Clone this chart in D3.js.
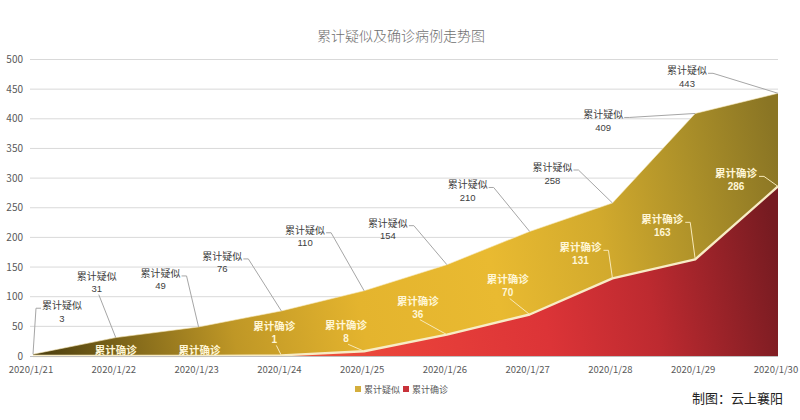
<!DOCTYPE html>
<html><head><meta charset="utf-8">
<script src="https://cdn.jsdelivr.net/npm/d3@7"></script>
<style>
html,body{margin:0;padding:0;background:#fff;}
svg{display:block;font-family:"Noto Sans CJK SC","Noto Sans",sans-serif;}
.num{font-family:"Liberation Sans",Arial,sans-serif;}
</style></head>
<body>
<svg id="chart" width="800" height="420"></svg>
<script>
const categories = ["2020/1/21","2020/1/22","2020/1/23","2020/1/24","2020/1/25","2020/1/26","2020/1/27","2020/1/28","2020/1/29","2020/1/30"];
const suspected = [3,31,49,76,110,154,210,258,409,443];
const confirmed = [0,0,0,1,8,36,70,131,163,286];
const yTicks = [0,50,100,150,200,250,300,350,400,450,500];
const seriesNames = ["累计疑似","累计确诊"];
const titleText = "累计疑似及确诊病例走势图";
const creditText = "制图：云上襄阳";

// label layout (offsets from point, in px) – layout only
const suspLabelPos = [[29,-49],[-19,-62],[-38,-54],[-59,-55],[-59,-61],[-59,-42],[-62,-47],[-60,-36],[-92,1],[-91,-23]];
const suspLeaderFrom = ["left","bottom","right","right","right","right","right","right","right","right"];
const confLabelPos = [null,[0,-6],[1,-6],[-7,-29],[-18,-26],[-29,-34],[-22,-35],[-32,-31],[-33,-40],[-42,-13]];
const confLeaderFrom = [null,null,null,"bottom","bottom","bottom","bottom","right","right","right"];

const svg = d3.select("#chart");
const x = d3.scalePoint().domain(categories).range([33,778]);
const y = d3.scaleLinear().domain([0,500]).range([356,59.5]);

const defs = svg.append("defs");
const gY = defs.append("linearGradient").attr("id","gY").attr("gradientUnits","userSpaceOnUse")
  .attr("x1",33).attr("y1",300).attr("x2",778).attr("y2",150);
[[0,"#4f410f"],[0.1,"#7c6419"],[0.25,"#bf9726"],[0.42,"#e4b42e"],[0.6,"#e9ba31"],[0.75,"#d2aa2d"],[0.88,"#ac9029"],[1,"#8a7524"]]
  .forEach(s=>gY.append("stop").attr("offset",s[0]).attr("stop-color",s[1]));
const gR = defs.append("linearGradient").attr("id","gR").attr("gradientUnits","userSpaceOnUse")
  .attr("x1",250).attr("y1",355).attr("x2",778).attr("y2",250);
[[0,"#ee5a3c"],[0.3,"#e8403a"],[0.55,"#dc3437"],[0.75,"#bd2a30"],[1,"#761b21"]]
  .forEach(s=>gR.append("stop").attr("offset",s[0]).attr("stop-color",s[1]));

// gridlines
svg.append("g").selectAll("line").data(yTicks.filter(d=>d>0)).join("line")
  .attr("x1",30).attr("x2",778).attr("y1",d=>y(d)).attr("y2",d=>y(d))
  .attr("stroke","#d9d9d9").attr("stroke-width",1);

// y axis labels
svg.append("g").selectAll("text").data(yTicks).join("text")
  .attr("x",23).attr("y",d=>y(d)+3.5).attr("text-anchor","end")
  .attr("font-size",10).attr("fill","#595959").text(d=>d);

// areas
const areaS = d3.area().x((d,i)=>x(categories[i])).y0(y(0)).y1(d=>y(d));
svg.append("path").datum(suspected).attr("d",areaS).attr("fill","url(#gY)");
const lineF = d3.line().x((d,i)=>x(categories[i])).y(d=>y(d));
svg.append("path").datum(suspected).attr("d",lineF).attr("fill","none")
  .attr("stroke","#f6e7b8").attr("stroke-opacity",0.6).attr("stroke-width",1);
svg.append("path").datum(confirmed).attr("d",areaS).attr("fill","url(#gR)");
svg.append("path").datum(confirmed).attr("d",lineF).attr("fill","none")
  .attr("stroke","#f8ecc6").attr("stroke-width",2.4).attr("stroke-linejoin","round");

// x axis line
svg.append("line").attr("x1",30).attr("x2",778).attr("y1",y(0)+0.5).attr("y2",y(0)+0.5)
  .attr("stroke","#bfbfbf");

// x labels
svg.append("g").selectAll("text").data(categories).join("text")
  .attr("x",d=>x(d)-2).attr("y",373).attr("text-anchor","middle")
  .attr("font-size",9.5).attr("fill","#595959").text(d=>d);

function leader(g, px, py, lx, ly, w, from, color){
  let pts;
  if(from==="left") pts=[[lx-w/2-2,ly+3],[lx-w/2-7,ly+3],[px,py]];
  else if(from==="right") pts=[[lx+w/2+2,ly+3],[lx+w/2+7,ly+3],[px,py]];
  else pts=[[lx+2,ly+19],[px,py]];
  g.append("polyline").attr("points",pts.map(p=>p.join(",")).join(" "))
    .attr("fill","none").attr("stroke",color).attr("stroke-width",1);
}

function twoLine(g, lx, ly, l1, l2, size, weight, fill, gap){
  g.append("text").attr("x",lx).attr("y",ly+4).attr("text-anchor","middle").attr("font-size",size)
    .attr("font-weight",weight).attr("fill",fill).text(l1);
  if(l2!==null) g.append("text").attr("class","num").attr("x",lx).attr("y",ly+4+gap)
    .attr("text-anchor","middle").attr("font-size",size-0.5)
    .attr("font-weight",weight).attr("fill",fill).text(l2);
}

// suspected labels
const gl = svg.append("g");
suspected.forEach((v,i)=>{
  const px=x(categories[i]), py=y(v);
  const lx=px+suspLabelPos[i][0], ly=py+suspLabelPos[i][1];
  leader(gl,px,py,lx,ly,38,suspLeaderFrom[i],"#a6a6a6");
  twoLine(gl,lx,ly,seriesNames[0],v,10,"normal","#404040",12.5);
});
// confirmed labels
confirmed.forEach((v,i)=>{
  if(!confLabelPos[i]) return;
  const px=x(categories[i]), py=y(v);
  const lx=px+confLabelPos[i][0], ly=py+confLabelPos[i][1];
  if(confLeaderFrom[i]) leader(gl,px,py,lx,ly,42,confLeaderFrom[i],"#f8e9b8");
  twoLine(gl,lx,ly,seriesNames[1],v>0?v:null,10.5,"bold","#fff6d6",13);
});

// title
svg.append("text").attr("x",401).attr("y",41).attr("text-anchor","middle")
  .attr("font-size",14).attr("font-weight",300).attr("fill","#6f6f6f").text(titleText);

// legend
const leg = svg.append("g");
const legColors = ["#d4ae3c","#c8323a"];
const legX = [355,403];
seriesNames.forEach((n,i)=>{
  leg.append("rect").attr("x",legX[i]).attr("y",386).attr("width",6).attr("height",6).attr("fill",legColors[i]);
  leg.append("text").attr("x",legX[i]+9).attr("y",392.5).attr("font-size",9).attr("fill","#595959").text(n);
});

// credit
svg.append("text").attr("x",783).attr("y",403).attr("text-anchor","end")
  .attr("font-size",13).attr("fill","#222").text(creditText);
</script>
</body></html>
